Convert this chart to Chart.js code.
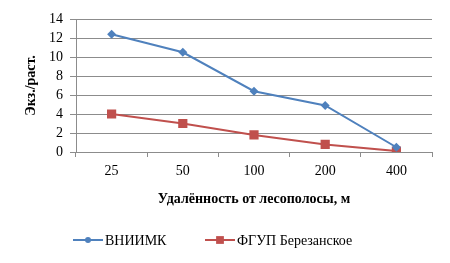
<!DOCTYPE html>
<html>
<head>
<meta charset="utf-8">
<script src="https://cdn.jsdelivr.net/npm/chart.js@4"></script>
<style>
  html,body{margin:0;padding:0;background:#fff;}
  #wrap{width:450px;height:263px;position:relative;}
</style>
</head>
<body>
<div id="wrap"><canvas id="chart"></canvas></div>
<script>
// данные
const distances = ["25", "50", "100", "200", "400"];
const vniimk = [12.4, 10.5, 6.4, 4.9, 0.5];
const berezanskoe = [4.0, 3.0, 1.8, 0.8, 0.1];
const seriesNames = ["ВНИИМК", "ФГУП Березанское"];

const BLUE = "#4F81BD";
const RED = "#C0504D";
const GRID = "#8c8c8c";
const FONT = "'Liberation Serif', 'Times New Roman', serif";

// legend drawn by hand: line + marker like Excel
const excelLegend = {
  id: "excelLegend",
  afterDraw(chart){
    const ctx = chart.ctx;
    const y = 240;
    const items = [
      {x0:73, x1:103, tx:105, color:BLUE, style:"circle", r:3},
      {x0:205, x1:235, tx:237, color:RED, style:"rect", r:5.5}
    ];
    ctx.save();
    items.forEach((it,i)=>{
      ctx.strokeStyle = it.color;
      ctx.lineWidth = 2;
      ctx.beginPath();
      ctx.moveTo(it.x0, y);
      ctx.lineTo(it.x1, y);
      ctx.stroke();
      ctx.fillStyle = it.color;
      Chart.helpers.drawPoint(ctx, {pointStyle:it.style, radius:it.r, borderWidth:0}, (it.x0+it.x1)/2, y);
      ctx.fillStyle = "#000";
      ctx.font = "14px " + FONT;
      ctx.textBaseline = "middle";
      ctx.textAlign = "left";
      ctx.fillText(seriesNames[i], it.tx, y+1);
    });
    ctx.restore();
  }
};

new Chart(document.getElementById("chart"), {
  type: "line",
  data: {
    labels: distances,
    datasets: [
      {label:seriesNames[0], data:vniimk, borderColor:BLUE, backgroundColor:BLUE,
       borderWidth:2, pointStyle:"rectRot", pointRadius:4.5, pointBorderWidth:0, fill:false, tension:0},
      {label:seriesNames[1], data:berezanskoe, borderColor:RED, backgroundColor:RED,
       borderWidth:2, pointStyle:"rect", pointRadius:6.5, pointBorderWidth:0, fill:false, tension:0}
    ]
  },
  options: {
    responsive: true,
    maintainAspectRatio: false,
    animation: false,
    layout: {padding:{left:14, right:18, top:19, bottom:51}},
    plugins: {legend:{display:false}, tooltip:{enabled:false}},
    scales: {
      x: {
        offset: true,
        grid: {display:true, drawOnChartArea:false, color:GRID, tickLength:5, offset:true},
        border: {color:GRID, width:1},
        ticks: {color:"#000", font:{family:FONT, size:14}, padding:6, maxRotation:0},
        title: {display:true, text:"Удалённость от лесополосы, м", color:"#000",
                font:{family:FONT, size:14, weight:"bold"}, padding:{top:4, bottom:4}},
        afterFit(scale){ scale.height = 60; }
      },
      y: {
        min: 0, max: 14,
        ticks: {stepSize:2, autoSkip:false, color:"#000", font:{family:FONT, size:14, lineHeight:1}, padding:7},
        grid: {color:GRID, tickLength:6},
        border: {color:GRID, width:1},
        title: {display:true, text:"Экз./раст.", color:"#000",
                font:{family:FONT, size:14, weight:"bold"}, padding:{top:9, bottom:0}},
        afterFit(scale){ scale.width = 62; }
      }
    }
  },
  plugins: [excelLegend]
});
</script>
</body>
</html>
